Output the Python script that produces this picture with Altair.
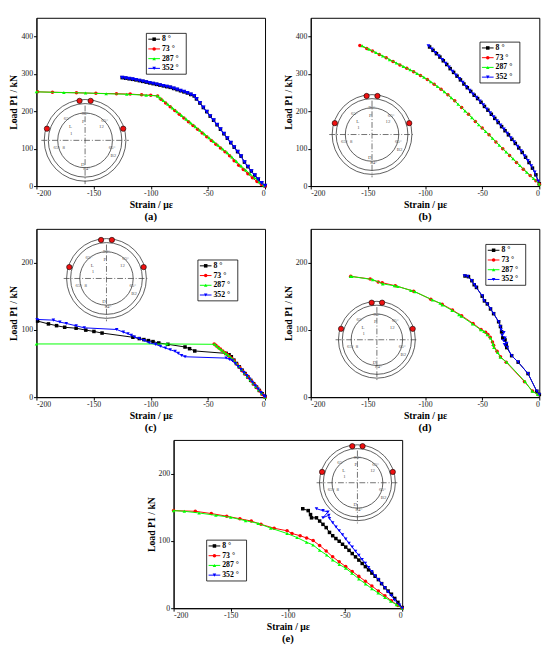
import altair as alt
import pandas as pd

FONT = "Liberation Serif"
SERIES = ["8 °", "73 °", "287 °", "352 °"]
ANGLES = [8, 73, 287, 352]
COLORS = ["#000000", "#ff0000", "#00ff00", "#0000ff"]
SHAPES = ["square", "circle", "triangle-up", "triangle-down"]
CAPTIONS = ["(a)", "(b)", "(c)", "(d)", "(e)"]
X_TICKS = [-200, -150, -100, -50, 0]
Y_TICKS_HIGH = [0, 100, 200, 300, 400]
Y_TICKS_LOW = [0, 100, 200]

# ---------------- panel (a) ----------------
A8_X = [-125, -122, -119, -116, -113, -110, -107, -104, -101, -98, -95, -92, -89, -86, -83, -80, -77, -74, -71, -68, -65, -62,
        -60, -57, -54, -51, -48, -45, -42, -39, -36, -33, -30, -27, -24, -21, -18, -15, -12, -9, -6, -3, 0]
A8_Y = [290, 288.5, 287, 285.5, 284, 282, 280, 278, 276, 274, 272, 270, 268, 266, 264, 261, 258, 255, 252, 249, 245, 241,
        233, 222, 210, 199, 187, 176, 164, 152, 140, 128, 116, 104, 92, 80, 64, 52, 40, 29, 18, 8, 1]
A73_X = [-199, -186, -165, -148, -130, -118, -108, -100, -94, -91, -87, -83, -79, -75, -71, -67, -63, -59, -55, -51, -47,
         -43, -39, -35, -31, -27, -23, -19, -15, -11, -7, -3, 0]
A73_Y = [252, 251, 249.5, 248, 247, 246, 244, 243, 241, 232, 222, 212, 202, 192, 182, 172, 162, 152, 142, 132, 122,
         112, 102, 92, 81, 68, 56, 44, 33, 22, 12, 4, 0]
A287_X = [-200, -176, -157, -139, -121, -104, -94, -92, -89, -85, -81, -77, -73, -69, -65, -61, -57, -53, -49, -45, -41,
          -37, -33, -29, -25, -21, -17, -13, -9, -5, -1]
A287_Y = [252, 250, 249, 247, 245.5, 243, 241, 236, 229, 219, 209, 199, 189, 179, 169, 159, 149, 139, 129, 119, 109,
          99, 89, 78, 66, 54, 43, 32, 22, 11, 2]
A352_X = [-125, -122, -119, -116, -113, -110, -107, -104, -101, -98, -95, -92, -89, -86, -83, -80, -77, -74, -71, -68, -65, -62,
          -60, -57, -54, -51, -48, -45, -42, -39, -36, -33, -30, -27, -24, -21, -18, -15, -12, -9, -6, -3, 0]
A352_Y = [290, 288.5, 287, 285.5, 284, 282, 280, 278, 276, 274, 272, 270, 268, 266, 264, 261, 258, 255, 252, 249, 245, 241,
          233, 222, 210, 199, 187, 176, 164, 152, 140, 128, 116, 104, 92, 80, 64, 52, 40, 29, 18, 8, 1]

# ---------------- panel (b) ----------------
B8_X = [-96, -93, -90, -87, -84, -81, -78, -75, -72, -69, -66, -63, -60, -57, -54, -51, -48, -45, -42, -39, -36, -33,
        -30, -27, -24, -21, -18, -15, -12, -9, -6, -3, 0]
B8_Y = [372, 363, 354, 345, 335, 325, 314, 304, 294, 284, 273, 263, 253, 243, 234, 224, 213, 203, 192, 181, 170, 159,
        148, 137, 125, 114, 102, 90, 77, 63, 48, 30, 6]
B73_X = [-157, -151, -146, -140, -134, -128, -122, -116, -110, -104, -98, -92, -86, -80, -74, -68, -62, -56, -50, -44,
         -38, -32, -26, -20, -14, -8, -3, 0]
B73_Y = [376, 368, 361, 352, 343, 333, 324, 315, 306, 296, 285, 272, 259, 244, 228, 210, 192, 173, 155, 137,
         118, 100, 82, 63, 45, 28, 14, 5]
B287_X = [-155, -149, -143, -137, -131, -125, -119, -113, -107, -101, -95, -89, -83, -77, -71, -65, -59, -53, -47, -41,
          -35, -29, -23, -17, -11, -5, 0]
B287_Y = [375, 366, 357, 348, 338, 329, 320, 311, 301, 291, 279, 266, 252, 236, 219, 201, 183, 164, 146, 128,
          109, 91, 73, 55, 37, 20, 5]
B352_X = [-97, -94, -91, -88, -85, -82, -79, -76, -73, -70, -67, -64, -61, -58, -55, -52, -49, -46, -43, -40, -37, -34,
          -31, -28, -25, -22, -19, -16, -13, -10, -7, -4, -1]
B352_Y = [375, 366, 357, 348, 338, 328, 318, 307, 297, 287, 277, 266, 256, 246, 237, 227, 217, 206, 196, 185, 174, 163,
          152, 141, 129, 118, 106, 94, 81, 68, 54, 37, 13]

# ---------------- panel (c) ----------------
C8_X = [-199, -189.5, -182.4, -175.3, -165.3, -156.8, -149.7, -142.6, -115.6, -110, -106, -102, -98, -93, -85, -70, -66,
        -61.5, -34, -31.5, -29.5, -27.3, -25, -22.5, -20, -17.5, -15, -12.5, -10, -7.5, -5, -2.5, 0]
C8_Y = [113, 108.8, 106.2, 103.8, 102.4, 99.6, 97.6, 95.2, 89, 87, 85.5, 84, 82.5, 80.5, 78.5, 74.5, 72,
        68.6, 65, 63, 60, 55, 50, 45, 40, 35, 30, 25, 20, 15, 10, 5, 1]
C73_X = [-44.5, -43, -41, -39, -37, -35, -33, -31, -29, -27, -24.5, -22, -19.5, -17, -14.5, -12, -9.5, -7, -4.5, -2, 0]
C73_Y = [79, 77, 74, 71.5, 68.5, 66, 63.5, 60.5, 57.5, 54, 49, 44, 39, 34, 29, 24, 19, 14, 9, 4, 0]
C287_X = [-200, -86, -44, -42, -40, -38, -36, -34, -32, -30, -28, -25.5, -23, -20.5, -18, -15.5, -13, -10.5, -8, -5.5, -3, 0]
C287_Y = [79, 79, 78.5, 75.5, 72.5, 70, 67, 64.5, 62, 59, 56, 51, 46, 41, 36, 31, 26, 21, 16, 11, 6, 0]
C352_X = [-199.4, -185.2, -179.5, -173.9, -165.3, -158.2, -129.8, -124, -119.9, -117, -114.2, -110, -105.7, -101.4, -95.7,
          -91.5, -87.2, -83, -78.7, -75.9, -73, -70, -34, -31, -28.5, -26, -23.5, -21, -18.5, -16, -13.5, -11, -8.5, -6,
          -3.5, -1, 0]
C352_Y = [115.4, 114.4, 111.5, 109.5, 106, 103, 100.5, 96.6, 94.2, 91.8, 89.4, 87, 84, 80.8, 78.4,
          75.5, 73, 70.5, 68, 65, 62, 60, 58, 56, 54, 50, 45.5, 41, 36.5, 32, 27, 22, 17, 12,
          7, 2, 0]

# ---------------- panel (d) ----------------
D8_X = [-65, -62, -59, -57, -55, -50, -48, -45.5, -42.7, -40, -35.6, -34, -33, -32, -30, -29, -28.5, -24.2, -18.5, -9.9,
        -2.2, 0]
D8_Y = [180, 179, 173, 167, 163, 150, 143, 138.5, 131, 124, 112, 105, 97, 88, 85, 78, 73.6, 61.6, 52, 35, 8.7, 4]
D73_X = [-165, -148, -141, -137.5, -126, -110, -95, -85, -76, -68, -58, -51, -47, -45, -43, -41, -40, -37, -34, -29,
         -13, -6, -1]
D73_Y = [179.5, 175.5, 171.2, 170, 165.5, 157.5, 145.5, 138, 129.5, 121, 109.5, 100.5, 96.5, 93, 89, 82, 77, 68, 60,
         52, 23, 9, 4]
D287_X = [-165.2, -164, -145.8, -137, -126.8, -123.9, -112.4, -108.7, -93.4, -86.8, -84.8, -76.3, -70.3, -68.3, -58.4,
          -51.2, -48.4, -45.5, -42.7, -40.4, -39.8, -36.4, -34.1, -28.4, -12.5, -6.2, -1.4]
D287_Y = [179.4, 179.2, 174.6, 168.3, 165.4, 164.5, 158.5, 156.5, 144.3, 139.5, 137, 128.9, 122.6, 120.2, 108.7,
          100, 97.6, 92.8, 88, 78.4, 73.6, 66.4, 59.2, 51.9, 23.1, 8.7, 4]
D352_X = [-65.5, -62.6, -59.2, -56.9, -55.5, -49.8, -48.4, -45.5, -42.7, -39.9, -35.6, -34.1, -33.5, -31, -32.5, -30,
          -31.5, -28.5, -30.5, -28, -24.2, -18.5, -9.9, -2.2, 0]
D352_Y = [180.4, 179.4, 173.1, 167.3, 163.5, 150.5, 143.3, 138.5, 131.3, 124, 112, 105, 100, 96, 92, 88,
          84, 80, 78, 74, 61.6, 52, 35.1, 8.7, 4]

# ---------------- panel (e) ----------------
E8_X = [-87, -82.2, -80.2, -79.3, -75, -72.2, -69.3, -66.5, -63.6, -60.8, -58, -55.1, -52.2, -49.4, -46.5, -43.7, -40.8,
        -37.9, -35, -32.2, -29.4, -26.5, -23.7, -20.8, -18, -15.1, -12.3, -9.4, -6.5, -3.7, 0]
E8_Y = [147.8, 145, 139.1, 134.3, 134.3, 129.5, 124.6, 119.8, 112.6, 107.7, 103.5, 99.5, 95, 90.8, 86, 81.2, 76.3,
        71.5, 66.5, 61.8, 57, 52.2, 47.5, 42.5, 36.5, 30.4, 25.5, 20.8, 14.5, 8.7, 1]
E73_X = [-200, -181, -167, -153.5, -142, -132, -123.5, -112, -100.7, -96.4, -89.3, -83.6, -77.9, -72.2, -66.5, -60.8,
         -55.1, -49.4, -43.7, -37.9, -32.2, -26.5, -20.8, -15.1, -9.4, -3.7, 0]
E73_Y = [145, 144, 140.6, 136.7, 132.9, 129.5, 124.6, 118.8, 115, 111, 107.7, 104.3, 100.5, 93.2, 85, 76.3,
         69, 61.8, 54.6, 47.3, 40.1, 32.9, 25.6, 18.4, 11.1, 3.9, 0]
E287_X = [-200, -190.6, -177.7, -163, -150, -137, -126, -115, -100.7, -92, -83.6, -78, -72.2, -66, -60.8, -55, -49.4,
          -44, -37.9, -32, -26.5, -21, -15.1, -10, -5, 0]
E287_Y = [145, 144, 141.5, 138, 135, 130, 126, 119, 111, 105, 98, 94, 86, 79, 71.5, 65, 59.4,
          52, 43.5, 36, 29, 22.5, 16, 10.5, 5, 0]
E352_X = [-75, -69.3, -65, -69.3, -64.2, -63.6, -60.8, -57.9, -55.1, -52.2, -49.4, -46.5, -43.7, -40.8, -37.9, -35.1,
          -32.2, -29.4, -26.5, -23.7, -20.8, -18, -15.1, -12.3, -9.4, -6.6, -2.3, 0]
E352_Y = [147.8, 145, 143, 134.3, 138.2, 133.3, 127, 120.8, 115, 109.2, 102.9, 96.6, 90.8, 84.5, 78.7, 72.5,
          66.7, 60.4, 54.6, 48.3, 42.5, 36.2, 30.4, 24.2, 18.4, 12.1, 4.8, 0]

PANELS = [
    [(A8_X, A8_Y), (A73_X, A73_Y), (A287_X, A287_Y), (A352_X, A352_Y)],
    [(B8_X, B8_Y), (B73_X, B73_Y), (B287_X, B287_Y), (B352_X, B352_Y)],
    [(C8_X, C8_Y), (C73_X, C73_Y), (C287_X, C287_Y), (C352_X, C352_Y)],
    [(D8_X, D8_Y), (D73_X, D73_Y), (D287_X, D287_Y), (D352_X, D352_Y)],
    [(E8_X, E8_Y), (E73_X, E73_Y), (E287_X, E287_Y), (E352_X, E352_Y)],
]

# ---------------- layout (pixels inside each plot area) ----------------
W, H = 235, 173
Y_DOMAINS = [[0, 450], [0, 450], [0, 250], [0, 250], [0, 250]]
Y_TICK_SETS = [Y_TICKS_HIGH, Y_TICKS_HIGH, Y_TICKS_LOW, Y_TICKS_LOW, Y_TICKS_LOW]
LEGEND_POS = [(113, 16), (174, 25), (166, 32), (180, 16), (34, 103)]
INSET_POS = [(50, 126, 42), (63, 120, 41), (72, 51, 41), (68, 114, 39.5), (189, 44, 39)]
RING_FRACS = [1.0, 0.9, 0.67]
INSET_TEXT = [("96°", 0.0, -0.68), ("P", -0.04, -0.48), ("65°", -0.44, -0.54), ("12", 0.4, -0.34),
              ("65°", 0.48, -0.5), ("L", -0.36, -0.34), ("1", -0.34, -0.18), ("65°", -0.69, 0.16),
              ("8", -0.52, 0.17), ("65°", 0.66, 0.16), ("B2", 0.69, 0.37), ("D", -0.06, 0.57),
              ("84°", 0.04, 0.69)]

ONE = alt.Data(values=[{"k": 1}])


def series_layers(pairs, ydom, yticks, msize):
    xaxis = alt.Axis(values=X_TICKS, title="Strain / με", labelExpr="'' + datum.value")
    yaxis = alt.Axis(values=yticks, title="Load P1 / kN", labelExpr="'' + datum.value")
    layers = []
    for k, (xs, ys) in enumerate(pairs):
        df = pd.DataFrame({"x": xs, "y": ys, "i": list(range(len(xs)))})
        base = alt.Chart(df).encode(
            x=alt.X("x:Q", scale=alt.Scale(domain=[-200, 0], nice=False, zero=False), axis=xaxis),
            y=alt.Y("y:Q", scale=alt.Scale(domain=ydom, nice=False), axis=yaxis),
            order=alt.Order("i:Q"),
        )
        layers.append(base.mark_line(color=COLORS[k], strokeWidth=1))
        layers.append(base.mark_point(shape=SHAPES[k], filled=True, color=COLORS[k], size=msize[k], opacity=1))
    return layers


def inset_layers(cx, cy, R):
    rings = alt.Chart(pd.DataFrame({"f": RING_FRACS})).transform_calculate(
        sz=f"pow(2*{R}*datum.f, 2)"
    ).mark_point(shape="circle", filled=False, color="#333333", strokeWidth=0.8, opacity=1).encode(
        x=alt.value(cx), y=alt.value(cy), size=alt.Size("sz:Q", scale=None, legend=None)
    )
    hline = alt.Chart(ONE).mark_rule(color="#333333", strokeWidth=0.7, strokeDash=[6, 2, 1, 2]).encode(
        x=alt.value(cx - R - 3), x2=alt.value(cx + R + 3), y=alt.value(cy)
    )
    vline = alt.Chart(ONE).mark_rule(color="#333333", strokeWidth=0.7, strokeDash=[6, 2, 1, 2]).encode(
        x=alt.value(cx), y=alt.value(cy - R * 0.85), y2=alt.value(cy + R + 3)
    )
    tdf = pd.DataFrame({"t": [t[0] for t in INSET_TEXT], "dx": [t[1] for t in INSET_TEXT],
                        "dy": [t[2] for t in INSET_TEXT]})
    texts = alt.Chart(tdf).transform_calculate(
        px=f"{cx} + datum.dx*{R}", py=f"{cy} + datum.dy*{R}"
    ).mark_text(font=FONT, fontSize=5, color="#555555").encode(
        x=alt.X("px:Q", scale=None), y=alt.Y("py:Q", scale=None), text="t:N"
    )
    dots = alt.Chart(pd.DataFrame({"a": ANGLES})).transform_calculate(
        px=f"{cx} + {R - 1}*sin(datum.a*PI/180)", py=f"{cy} - {R - 1}*cos(datum.a*PI/180)"
    ).mark_point(shape="circle", filled=True, fill="#ee1111", stroke="#000000", strokeWidth=0.6,
                 size=30, opacity=1).encode(
        x=alt.X("px:Q", scale=None), y=alt.Y("py:Q", scale=None)
    )
    return [rings, hline, vline, texts, dots]


def legend_layers(lx, ly):
    box = alt.Chart(ONE).mark_rect(fill="white", stroke="black", strokeWidth=0.8).encode(
        x=alt.value(lx), x2=alt.value(lx + 41), y=alt.value(ly), y2=alt.value(ly + 42)
    )
    ldf = pd.DataFrame({"s": SERIES, "c": COLORS, "sh": SHAPES, "row": [0, 1, 2, 3]})
    base = alt.Chart(ldf).transform_calculate(py=f"{ly + 6} + datum.row*10")
    ypos = alt.Y("py:Q", scale=None)
    rule = base.mark_rule(strokeWidth=1).encode(
        x=alt.value(lx + 2), x2=alt.value(lx + 14), y=ypos, color=alt.Color("c:N", scale=None)
    )
    pts = base.mark_point(filled=True, size=13, opacity=1).encode(
        x=alt.value(lx + 8), y=ypos, color=alt.Color("c:N", scale=None), shape=alt.Shape("sh:N", scale=None)
    )
    txt = base.mark_text(align="left", baseline="middle", font=FONT, fontSize=8, fontWeight="bold",
                         color="black").encode(x=alt.value(lx + 16), y=ypos, text="s:N")
    return [box, rule, pts, txt]


MARKER_SIZES = [[13, 13, 13, 22], [13, 13, 13, 15], [13, 13, 13, 13], [13, 13, 13, 13], [13, 13, 13, 13]]


def panel(idx):
    cx, cy, R = INSET_POS[idx]
    lx, ly = LEGEND_POS[idx]
    layers = inset_layers(cx, cy, R) \
        + series_layers(PANELS[idx], Y_DOMAINS[idx], Y_TICK_SETS[idx], MARKER_SIZES[idx]) \
        + legend_layers(lx, ly)
    return alt.layer(*layers).properties(
        width=W, height=H,
        title=alt.TitleParams(CAPTIONS[idx], orient="bottom", anchor="middle", frame="group",
                              font=FONT, fontSize=11, fontWeight="bold", offset=2, color="black"),
    )


row1 = alt.hconcat(panel(0), panel(1), spacing=15)
row2 = alt.hconcat(panel(2), panel(3), spacing=15)
chart = alt.vconcat(row1, row2, panel(4), spacing=5, center=True).properties(
    padding={"left": 0, "top": 0, "right": 0, "bottom": 0}
).configure_view(
    stroke="black", strokeWidth=1
).configure_axis(
    labelFont=FONT, labelFontSize=8, labelColor="#222222", labelPadding=1,
    titleFont=FONT, titleFontSize=10, titleFontWeight="bold", titleColor="black", titlePadding=2,
    domainColor="black", tickColor="black", tickSize=3, grid=False,
)

chart.save("out.html", embed_options={"renderer": "svg", "actions": False})
